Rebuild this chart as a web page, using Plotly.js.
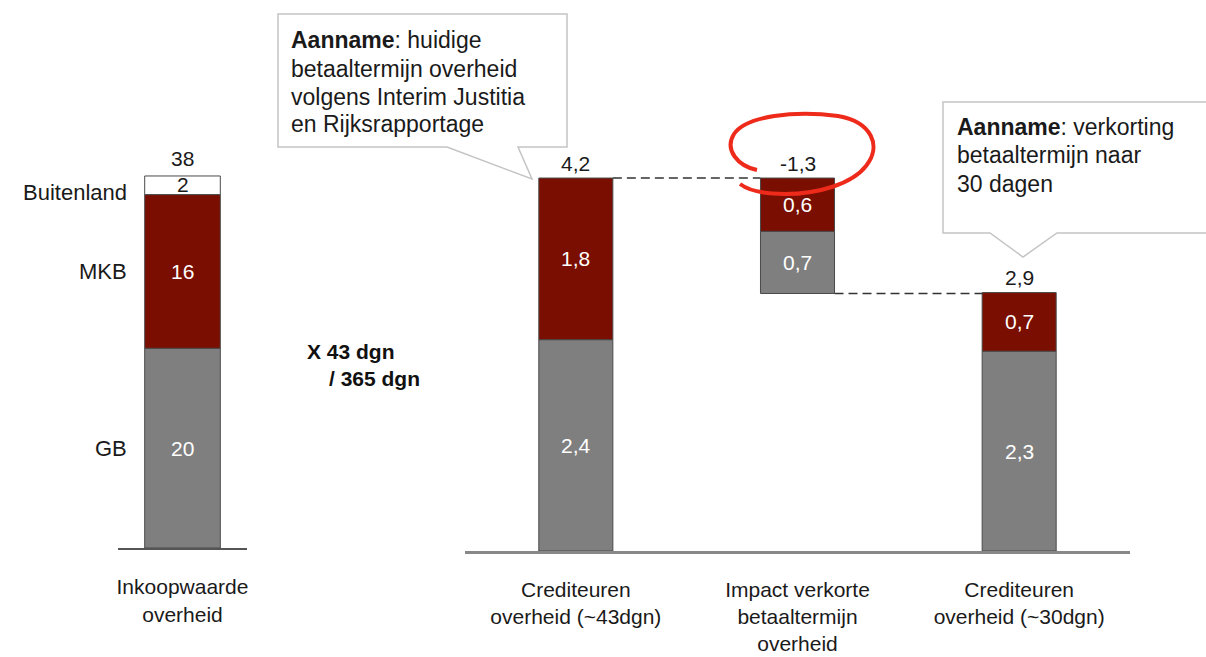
<!DOCTYPE html>
<html>
<head>
<meta charset="utf-8">
<script src="https://cdn.plot.ly/plotly-3.0.1.min.js"></script>
<style>
  html, body { margin: 0; padding: 0; background: #fff; }
  #chart { width: 1206px; height: 657px; }
</style>
</head>
<body>
<div id="chart"></div>
<script>
// Left: inkoopwaarde overheid (stacked)
const leftCats = ['Inkoopwaarde<br>overheid'];
const segNames = ['GB', 'MKB', 'Buitenland'];
const gbVals = [20.4];
const mkbVals = [15.7];
const buitVals = [1.9];

// Right: crediteuren waterfall
const rightCats = [
    'Crediteuren<br>overheid (~43dgn)',
    'Impact verkorte<br>betaaltermijn<br>overheid',
    'Crediteuren<br>overheid (~30dgn)'
];
const grayVals = [2.38, 0.7, 2.25];
const redVals = [1.82, 0.6, 0.66];
const isDelta = [false, true, false];

const RED = '#7a0e00';
const GRAY = '#7f7f7f';
const EDGE = '#4a4a4a';
const FONT = 'Liberation Sans, Arial, sans-serif';

const W = 1206, H = 657;
const px = x => x / W;
const py = y => 1 - y / H;

const fmt = (v, d) => v.toFixed(d).replace('.', ',');

// waterfall bases from the data
const totals = [];
const bases = [];
let running = 0;
for (let i = 0; i < grayVals.length; i++) {
    const t = grayVals[i] + redVals[i];
    if (isDelta[i]) {
        bases.push(running - t);
        totals.push(-t);
        running = running - t;
    } else {
        bases.push(0);
        totals.push(t);
        running = t;
    }
}
const redBases = bases.map((b, i) => b + grayVals[i]);

const leftW = 0.586;
const rightW = 0.334;
const line = {color: EDGE, width: 1};

const data = [
    {type: 'bar', x: leftCats, y: gbVals, base: [0], width: leftW,
     marker: {color: GRAY, line: line}, xaxis: 'x', yaxis: 'y', hoverinfo: 'skip'},
    {type: 'bar', x: leftCats, y: mkbVals, base: gbVals, width: leftW,
     marker: {color: RED, line: line}, xaxis: 'x', yaxis: 'y', hoverinfo: 'skip'},
    {type: 'bar', x: leftCats, y: buitVals, base: [gbVals[0] + mkbVals[0]], width: leftW,
     marker: {color: '#ffffff', line: line}, xaxis: 'x', yaxis: 'y', hoverinfo: 'skip'},
    {type: 'bar', x: rightCats, y: grayVals, base: bases, width: rightW,
     marker: {color: GRAY, line: line}, xaxis: 'x2', yaxis: 'y2', hoverinfo: 'skip'},
    {type: 'bar', x: rightCats, y: redVals, base: redBases, width: rightW,
     marker: {color: RED, line: line}, xaxis: 'x2', yaxis: 'y2', hoverinfo: 'skip'}
];

const annotations = [];
const txt = (o) => annotations.push(Object.assign({showarrow: false, yanchor: 'middle', font: {family: FONT, size: 21, color: '#1a1a1a'}}, o));

// left labels
const leftSegs = [gbVals[0], mkbVals[0], buitVals[0]];
let acc = 0;
leftSegs.forEach((v, i) => {
    const mid = acc + v / 2;
    acc += v;
    txt({xref: 'x', yref: 'y', x: leftCats[0], y: mid, text: fmt(v, 0),
         yshift: i === 2 ? 1 : 0,
         font: {family: FONT, size: 21, color: i === 2 ? '#1a1a1a' : '#ffffff'}});
    txt({xref: 'paper', yref: 'y', x: px(129), y: mid, xanchor: 'right', text: segNames[i],
         yshift: i === 2 ? -7 : 0, font: {family: FONT, size: 22, color: '#1a1a1a'}});
});
txt({xref: 'x', yref: 'y', x: leftCats[0], y: acc, text: fmt(acc, 0), yshift: 17});

// right labels
rightCats.forEach((c, i) => {
    txt({xref: 'x2', yref: 'y2', x: c, y: bases[i] + grayVals[i] / 2, text: fmt(grayVals[i], 1),
         font: {family: FONT, size: 21, color: '#ffffff'}});
    txt({xref: 'x2', yref: 'y2', x: c, y: redBases[i] + redVals[i] / 2, text: fmt(redVals[i], 1),
         font: {family: FONT, size: 21, color: '#ffffff'}});
    const top = bases[i] + grayVals[i] + redVals[i];
    txt({xref: 'x2', yref: 'y2', x: c, y: top, text: fmt(totals[i], 1), yshift: 15});
});

// middle note
txt({xref: 'paper', yref: 'paper', x: px(305), y: py(351), xanchor: 'left', text: '<b>X 43 dgn</b>',
     font: {family: FONT, size: 21, color: '#111'}});
txt({xref: 'paper', yref: 'paper', x: px(327), y: py(378), xanchor: 'left', text: '<b>/ 365 dgn</b>',
     font: {family: FONT, size: 21, color: '#111'}});

// callout texts
const call1 = ['<b>Aanname</b>: huidige', 'betaaltermijn overheid', 'volgens Interim Justitia', 'en Rijksrapportage'];
const call1Y = [40, 69, 97, 124];
call1.forEach((t, i) => txt({xref: 'paper', yref: 'paper', x: px(289), y: py(call1Y[i]), xanchor: 'left', text: t, font: {family: FONT, size: 23, color: '#1a1a1a'}}));
const call2 = ['<b>Aanname</b>: verkorting', 'betaaltermijn naar', '30 dagen'];
const call2Y = [127, 155, 184];
call2.forEach((t, i) => txt({xref: 'paper', yref: 'paper', x: px(955), y: py(call2Y[i]), xanchor: 'left', text: t, font: {family: FONT, size: 23, color: '#1a1a1a'}}));

// helper: pixel path to paper path
function pathFrom(cmds) {
    return cmds.map(c => c[0] + ' ' + c.slice(1).map((v, k) => k % 2 === 0 ? px(v).toFixed(5) : py(v).toFixed(5)).join(',')).join(' ');
}

const shapes = [
    // callout boxes
    {type: 'path', xref: 'paper', yref: 'paper', layer: 'above',
     path: pathFrom([['M', 278, 14], ['L', 567, 14], ['L', 567, 147], ['L', 518, 147], ['L', 532, 179], ['L', 447, 147], ['L', 278, 147]]) + ' Z',
     fillcolor: '#ffffff', line: {color: '#c4c4c4', width: 1.5}},
    {type: 'path', xref: 'paper', yref: 'paper', layer: 'above',
     path: pathFrom([['M', 943, 102], ['L', 1215, 102], ['L', 1215, 233], ['L', 1057, 233], ['L', 1023, 257], ['L', 990, 233], ['L', 943, 233]]) + ' Z',
     fillcolor: '#ffffff', line: {color: '#c4c4c4', width: 1.5}},
    // connectors
    {type: 'line', xref: 'x2', yref: 'y2', x0: 0 + rightW / 2, x1: 1 - rightW / 2,
     y0: totals[0], y1: totals[0], line: {color: '#333', width: 1.5, dash: '9px,5px'}},
    {type: 'line', xref: 'x2', yref: 'y2', x0: 1 + rightW / 2, x1: 2 - rightW / 2,
     y0: bases[1], y1: bases[1], line: {color: '#333', width: 1.5, dash: '9px,5px'}},
    // red hand-drawn ring
    {type: 'path', xref: 'paper', yref: 'paper', layer: 'above',
     path: pathFrom([['M', 757, 170], ['C', 738, 166, 724, 150, 734, 134], ['C', 746, 116, 795, 110, 838, 116],
                     ['C', 872, 122, 882, 146, 866, 166], ['C', 852, 184, 818, 194, 785, 194], ['C', 764, 194, 748, 190, 740, 184]]),
     line: {color: '#ee2a1b', width: 4}}
];

const layout = {
    width: W, height: H,
    margin: {l: 0, r: 0, t: 0, b: 0},
    paper_bgcolor: '#ffffff', plot_bgcolor: 'rgba(0,0,0,0)',
    showlegend: false, barmode: 'overlay',
    font: {family: FONT, size: 21, color: '#1a1a1a'},
    xaxis: {domain: [px(118), px(247)], anchor: 'y', type: 'category', range: [-0.5, 0.5],
            showline: true, linecolor: '#555', linewidth: 2, ticks: '', showgrid: false,
            ticklabelstandoff: 19, tickfont: {family: FONT, size: 21, color: '#1a1a1a'}, fixedrange: true},
    yaxis: {domain: [py(548), py(548 - 40 * 9.79)], anchor: 'x', range: [0, 40], visible: false, fixedrange: true},
    xaxis2: {domain: [px(465), px(1130)], anchor: 'y2', type: 'category', range: [-0.5, 2.5],
             showline: true, linecolor: '#888', linewidth: 2.5, ticks: '', showgrid: false,
             ticklabelstandoff: 18, tickfont: {family: FONT, size: 21, color: '#1a1a1a'}, fixedrange: true},
    yaxis2: {domain: [py(551), py(551 - 4.5 * 88.8)], anchor: 'x2', range: [0, 4.5], visible: false, fixedrange: true},
    annotations: annotations,
    shapes: shapes
};

Plotly.newPlot('chart', data, layout, {displayModeBar: false, staticPlot: true});
</script>
</body>
</html>
